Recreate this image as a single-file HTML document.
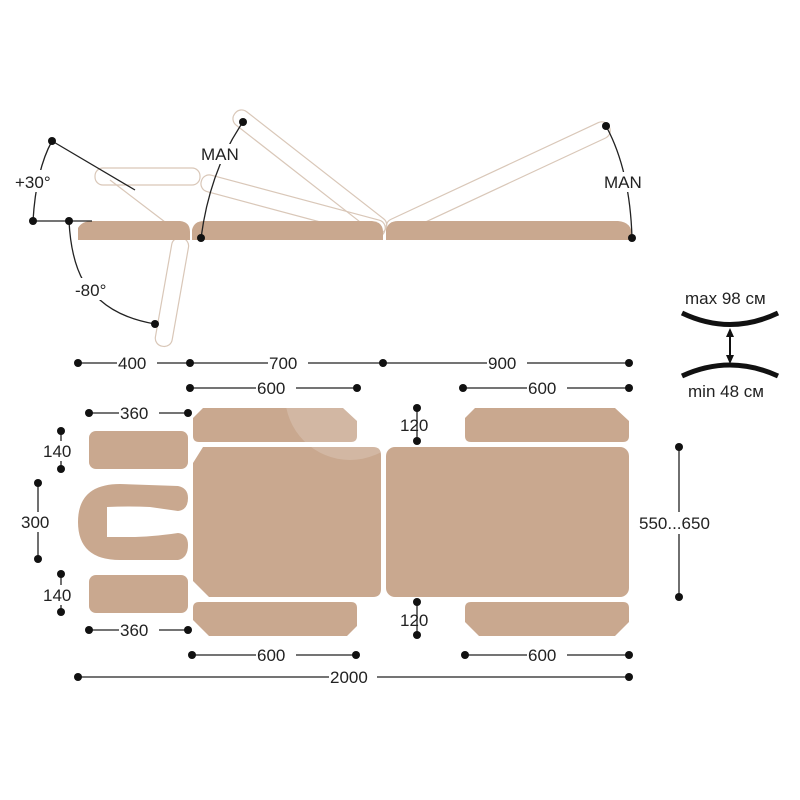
<!DOCTYPE html>
<html><head><meta charset="utf-8"><style>html,body{margin:0;background:#fff}svg{display:block}text{font-family:"Liberation Sans",sans-serif;font-size:17px;fill:#222}</style></head>
<body>
<svg width="800" height="800" viewBox="0 0 800 800">
<defs><style>.g{fill:none;stroke:#d9c7b8;stroke-width:1.2}.l{stroke:#222;stroke-width:1.3;fill:none}</style></defs>
<!-- side view ghosts -->
<rect class="g" x="95" y="168" width="105" height="17" rx="8"/>
<g transform="rotate(100 182 238)"><rect class="g" x="182" y="230" width="110" height="17" rx="8"/></g>
<g transform="rotate(15 385 230)"><rect class="g" x="195" y="222" width="190" height="17" rx="8"/></g>
<g transform="rotate(38 385 230)"><rect class="g" x="195" y="222" width="190" height="17" rx="8"/></g>
<g transform="rotate(-25 387 230)"><rect class="g" x="387" y="222" width="245" height="17" rx="8"/></g>
<line class="g" x1="110" y1="180" x2="165" y2="222"/>
<!-- side view bars -->
<path d="M78 240 L78 228 Q82 221 92 221 L180 221 Q190 222 190 232 L190 240 Z" fill="#c9a88f"/>
<path d="M192 240 L192 230 Q194 221 204 221 L372 221 Q383 222 383 232 L383 240 Z" fill="#c9a88f"/>
<path d="M386 240 L386 230 Q388 221 398 221 L618 221 Q632 222 632 236 L632 240 Z" fill="#c9a88f"/>
<!-- side view annotations -->
<line class="l" x1="33" y1="221" x2="92" y2="221"/>
<line class="l" x1="52" y1="141" x2="135" y2="190"/>
<path class="l" d="M52 141 Q36 170 33 221"/>
<path class="l" d="M69 221 Q72 280 100 300 Q120 318 155 324"/>
<path class="l" d="M243 122 Q210 170 201 238"/>
<path class="l" d="M606 126 Q630 170 632 238"/>
<g fill="#111"><circle cx="52" cy="141" r="4"/><circle cx="33" cy="221" r="4"/><circle cx="69" cy="221" r="4"/><circle cx="155" cy="324" r="4"/><circle cx="243" cy="122" r="4"/><circle cx="201" cy="238" r="4"/><circle cx="606" cy="126" r="4"/><circle cx="632" cy="238" r="4"/></g>
<rect x="14" y="170" width="42" height="22" fill="#fff"/><text x="15" y="188">+30°</text>
<rect x="74" y="278" width="40" height="22" fill="#fff"/><text x="75" y="296">-80°</text>
<rect x="200" y="144" width="46" height="20" fill="#fff"/><text x="201" y="160">MAN</text>
<rect x="603" y="172" width="46" height="20" fill="#fff"/><text x="604" y="188">MAN</text>
<!-- height icon -->
<text x="685" y="304">max 98 см</text>
<text x="688" y="397">min 48 см</text>
<path d="M682 313 Q730 336 778 313" stroke="#111" stroke-width="5" fill="none"/>
<path d="M682 376 Q730 354 778 376" stroke="#111" stroke-width="5" fill="none"/>
<line x1="730" y1="330" x2="730" y2="362" stroke="#111" stroke-width="2"/>
<path d="M726 337 L730 328 L734 337 Z M726 355 L730 364 L734 355 Z" fill="#111"/>
<!-- top view pieces -->
<g fill="#c9a88f">
<rect x="89" y="431" width="99" height="38" rx="7"/>
<rect x="89" y="575" width="99" height="38" rx="7"/>
<path d="M120 484 L178 486 Q188 488 188 498 Q188 510 178 511 L150 507 Q130 506 107 507 L107 537 L130 537 Q150 537 178 533 Q188 534 188 545 Q188 558 178 560 L120 560 Q78 560 78 522 Q78 484 120 484 Z"/>
<path d="M203 408 L343 408 L357 421 L357 436 Q357 442 351 442 L199 442 Q193 442 193 436 L193 418 Z"/>
<path d="M203 447 L373 447 Q381 447 381 455 L381 589 Q381 597 373 597 L209 597 L193 581 L193 463 Z"/>
<path d="M199 602 L351 602 Q357 602 357 608 L357 626 L347 636 L209 636 L193 620 L193 608 Q193 602 199 602 Z"/>
<path d="M475 408 L615 408 L629 421 L629 436 Q629 442 623 442 L471 442 Q465 442 465 436 L465 418 Z"/>
<rect x="386" y="447" width="243" height="150" rx="9"/>
<path d="M471 602 L623 602 Q629 602 629 608 L629 622 L615 636 L479 636 L465 622 L465 608 Q465 602 471 602 Z"/>
</g>
<circle cx="350" cy="395" r="65" fill="#fff" opacity="0.18"/>
<!-- dimension lines -->
<g class="l">
<line x1="78" y1="363" x2="629" y2="363"/>
<line x1="190" y1="388" x2="357" y2="388"/><line x1="463" y1="388" x2="629" y2="388"/>
<line x1="89" y1="413" x2="188" y2="413"/><line x1="89" y1="630" x2="188" y2="630"/>
<line x1="192" y1="655" x2="356" y2="655"/><line x1="465" y1="655" x2="629" y2="655"/>
<line x1="78" y1="677" x2="629" y2="677"/>
<line x1="61" y1="431" x2="61" y2="469"/><line x1="61" y1="574" x2="61" y2="612"/>
<line x1="38" y1="483" x2="38" y2="559"/>
<line x1="417" y1="408" x2="417" y2="441"/><line x1="417" y1="602" x2="417" y2="635"/>
<line x1="679" y1="447" x2="679" y2="597"/>
</g>
<g fill="#111">
<circle cx="78" cy="363" r="4"/><circle cx="190" cy="363" r="4"/><circle cx="383" cy="363" r="4"/><circle cx="629" cy="363" r="4"/>
<circle cx="190" cy="388" r="4"/><circle cx="357" cy="388" r="4"/><circle cx="463" cy="388" r="4"/><circle cx="629" cy="388" r="4"/>
<circle cx="89" cy="413" r="4"/><circle cx="188" cy="413" r="4"/><circle cx="89" cy="630" r="4"/><circle cx="188" cy="630" r="4"/>
<circle cx="192" cy="655" r="4"/><circle cx="356" cy="655" r="4"/><circle cx="465" cy="655" r="4"/><circle cx="629" cy="655" r="4"/>
<circle cx="78" cy="677" r="4"/><circle cx="629" cy="677" r="4"/>
<circle cx="61" cy="431" r="4"/><circle cx="61" cy="469" r="4"/><circle cx="61" cy="574" r="4"/><circle cx="61" cy="612" r="4"/>
<circle cx="38" cy="483" r="4"/><circle cx="38" cy="559" r="4"/>
<circle cx="417" cy="408" r="4"/><circle cx="417" cy="441" r="4"/><circle cx="417" cy="602" r="4"/><circle cx="417" cy="635" r="4"/>
<circle cx="679" cy="447" r="4"/><circle cx="679" cy="597" r="4"/>
</g>
<g>
<rect x="117" y="353" width="40" height="20" fill="#fff"/><text x="118" y="369">400</text>
<rect x="268" y="353" width="40" height="20" fill="#fff"/><text x="269" y="369">700</text>
<rect x="487" y="353" width="40" height="20" fill="#fff"/><text x="488" y="369">900</text>
<rect x="256" y="378" width="40" height="20" fill="#fff"/><text x="257" y="394">600</text>
<rect x="527" y="378" width="40" height="20" fill="#fff"/><text x="528" y="394">600</text>
<rect x="119" y="403" width="40" height="20" fill="#fff"/><text x="120" y="419">360</text>
<rect x="119" y="620" width="40" height="20" fill="#fff"/><text x="120" y="636">360</text>
<rect x="256" y="645" width="40" height="20" fill="#fff"/><text x="257" y="661">600</text>
<rect x="527" y="645" width="40" height="20" fill="#fff"/><text x="528" y="661">600</text>
<rect x="329" y="667" width="48" height="20" fill="#fff"/><text x="330" y="683">2000</text>
<rect x="42" y="441" width="34" height="20" fill="#fff"/><text x="43" y="457">140</text>
<rect x="42" y="585" width="34" height="20" fill="#fff"/><text x="43" y="601">140</text>
<rect x="20" y="512" width="38" height="20" fill="#fff"/><text x="21" y="528">300</text>
<text x="400" y="431">120</text><text x="400" y="626">120</text>
<rect x="638" y="512" width="82" height="22" fill="#fff"/><text x="639" y="529">550...650</text>
</g>
</svg>
</body></html>
